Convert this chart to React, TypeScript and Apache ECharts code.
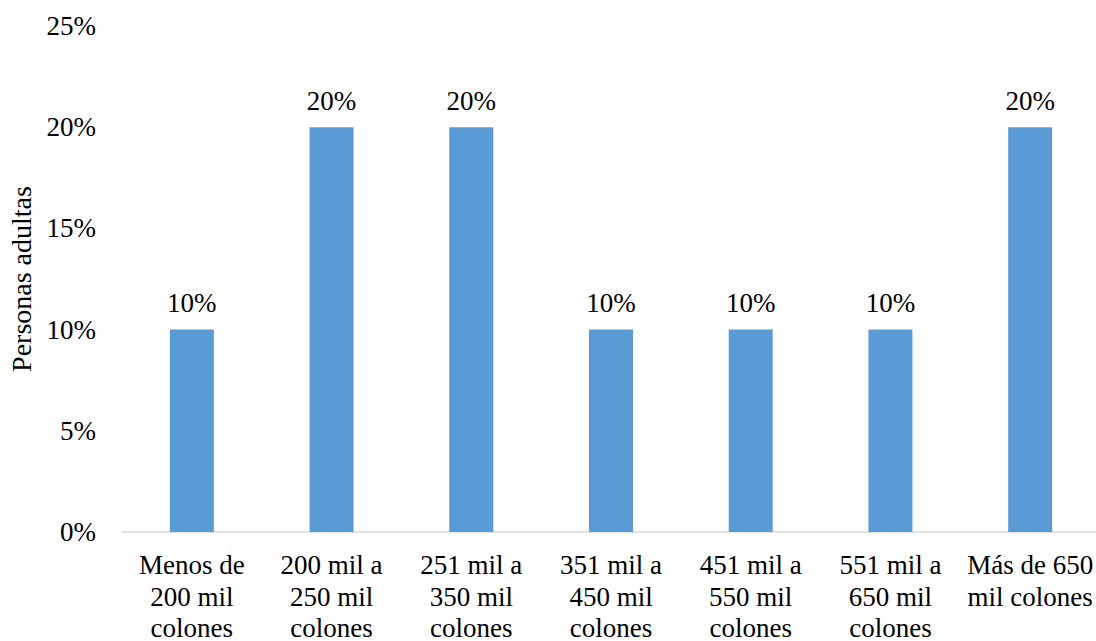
import React, { useEffect, useRef } from "react";
import * as echarts from "echarts";

const categories = [
  "Menos de\n200 mil\ncolones",
  "200 mil a\n250 mil\ncolones",
  "251 mil a\n350 mil\ncolones",
  "351 mil a\n450 mil\ncolones",
  "451 mil a\n550 mil\ncolones",
  "551 mil a\n650 mil\ncolones",
  "Más de 650\nmil colones",
];
const values = [10, 20, 20, 10, 10, 10, 20];
const yTicks = { min: 0, max: 25, interval: 5 };
const yName = "Personas adultas";

const FONT = "Liberation Serif";

export default function App() {
  const ref = useRef<HTMLDivElement>(null);
  useEffect(() => {
    if (!ref.current) return;
    const chart = echarts.init(ref.current, undefined, { renderer: "svg" });
    chart.setOption({
      animation: false,
      textStyle: { fontFamily: FONT },
      grid: { left: 122, right: -4, top: 26, bottom: 109, outerBoundsMode: "none", containLabel: false },
      xAxis: {
        type: "category",
        data: categories,
        axisLine: { lineStyle: { color: "#D9D9D9", width: 1.5 } },
        axisTick: { show: false },
        axisLabel: {
          interval: 0,
          color: "#000",
          fontFamily: FONT,
          fontSize: 27,
          lineHeight: 31.7,
          margin: 17,
        },
      },
      yAxis: {
        type: "value",
        min: yTicks.min,
        max: yTicks.max,
        interval: yTicks.interval,
        name: yName,
        nameLocation: "middle",
        nameGap: 86,
        nameTextStyle: { color: "#000", fontFamily: FONT, fontSize: 28 },
        splitLine: { show: false },
        axisLine: { show: false },
        axisTick: { show: false },
        axisLabel: {
          color: "#000",
          fontFamily: FONT,
          fontSize: 27,
          margin: 26,
          formatter: (v: number) => v + "%",
        },
      },
      series: [
        {
          type: "bar",
          data: values,
          barWidth: 44,
          itemStyle: { color: "#5B9BD5" },
          label: {
            show: true,
            position: "top",
            distance: 13,
            color: "#000",
            fontFamily: FONT,
            fontSize: 27,
            formatter: (p: any) => p.value + "%",
          },
        },
      ],
    });
    return () => chart.dispose();
  }, []);
  return (
    <div
      ref={ref}
      style={{ position: "fixed", left: 0, top: 0, width: 1096, height: 641, background: "#fff" }}
    />
  );
}
